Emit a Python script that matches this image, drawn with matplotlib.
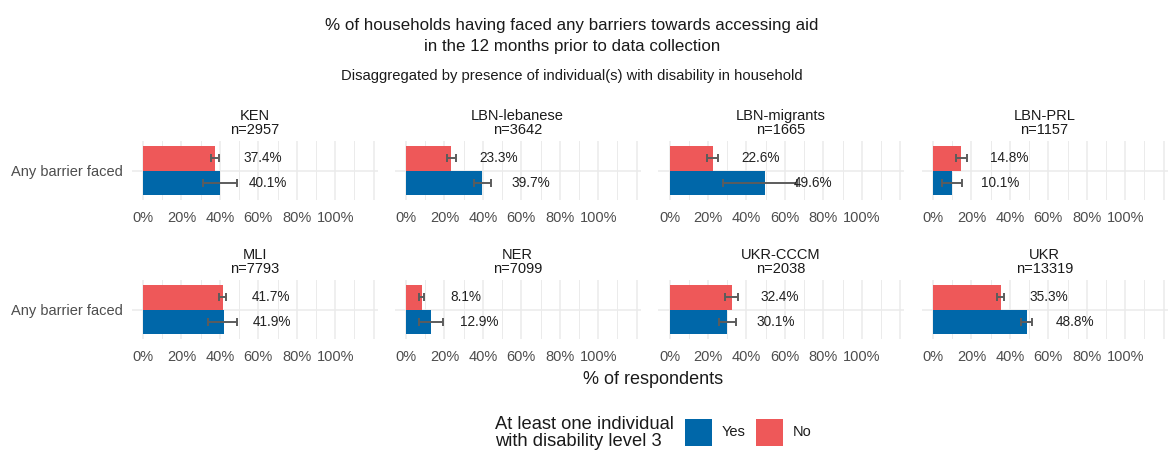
import numpy as np
import matplotlib
matplotlib.use('Agg')
from matplotlib import pyplot as plt
from matplotlib.patches import Rectangle

plt.rcParams['font.family'] = ['Liberation Sans', 'DejaVu Sans']

# data
panels = ['KEN', 'LBN-lebanese', 'LBN-migrants', 'LBN-PRL', 'MLI', 'NER', 'UKR-CCCM', 'UKR']
n_obs = [2957, 3642, 1665, 1157, 7793, 7099, 2038, 13319]
yes_val = [40.1, 39.7, 49.6, 10.1, 41.9, 12.9, 30.1, 48.8]
yes_low = [31.1, 35.4, 27.7, 4.7, 34.0, 6.9, 25.8, 45.8]
yes_high = [48.7, 44.0, 66.5, 15.0, 48.9, 19.3, 34.6, 51.5]
no_val = [37.4, 23.3, 22.6, 14.8, 41.7, 8.1, 32.4, 35.3]
no_low = [35.4, 21.1, 19.5, 11.8, 39.7, 6.7, 28.9, 33.3]
no_high = [39.4, 25.9, 25.0, 17.6, 43.2, 9.5, 35.8, 37.1]
category = 'Any barrier faced'

blue = '#0067a9'
red = '#ee5859'
grid_col = '#ebebeb'
err_col = '#5c5c5c'

W, H = 1168, 450
fig = plt.figure(figsize=(W / 100, H / 100), dpi=100)

col_left = [131.5, 394.5, 658, 921.5]
panel_w = 246
row_top = [141, 280]
panel_h = 59


def px_axes(x, y, w, h):
    return fig.add_axes([x / W, 1 - (y + h) / H, w / W, h / H])


for i, name in enumerate(panels):
    r, c = divmod(i, 4)
    ax = px_axes(col_left[c], row_top[r], panel_w, panel_h)
    ax.set_xlim(-6, 122)
    ax.set_ylim(-0.55, 0.55)
    for gx in np.arange(0, 121, 10):
        ax.axvline(gx, color=grid_col, lw=1.1 if gx % 20 == 0 else 0.7, zorder=0)
    ax.axhline(0, color=grid_col, lw=1.1, zorder=0)

    # No on top, Yes below
    ax.barh(0.225, no_val[i], height=0.45, color=red, zorder=2)
    ax.barh(-0.225, yes_val[i], height=0.45, color=blue, zorder=2)
    ax.errorbar([no_val[i]], [0.225],
                xerr=[[no_val[i] - no_low[i]], [no_high[i] - no_val[i]]],
                fmt='none', ecolor=err_col, elinewidth=1.4, capsize=3, capthick=1.4, zorder=3)
    ax.errorbar([yes_val[i]], [-0.225],
                xerr=[[yes_val[i] - yes_low[i]], [yes_high[i] - yes_val[i]]],
                fmt='none', ecolor=err_col, elinewidth=1.4, capsize=3, capthick=1.4, zorder=3)
    ax.text(no_val[i] + 15, 0.225, f'{no_val[i]:.1f}%', va='center', ha='left',
            fontsize=9.8, color='#222222', zorder=4)
    ax.text(yes_val[i] + 15, -0.225, f'{yes_val[i]:.1f}%', va='center', ha='left',
            fontsize=9.8, color='#222222', zorder=4)

    ax.set_xticks(np.arange(0, 101, 20))
    ax.set_xticklabels([f'{t}%' for t in range(0, 101, 20)], fontsize=10.5, color='#4d4d4d')
    ax.set_yticks([0])
    if c == 0:
        ax.set_yticklabels([category], fontsize=10.5, color='#4d4d4d')
    else:
        ax.set_yticklabels([])
    ax.tick_params(axis='x', length=0, pad=8)
    ax.tick_params(axis='y', length=0, pad=6)
    for s in ax.spines.values():
        s.set_visible(False)
    ax.set_title(f'{name}\nn={n_obs[i]}', fontsize=10.5, color='#1a1a1a', pad=5, linespacing=1.05)

fig.text(572 / W, 1 - 36 / H, '% of households having faced any barriers towards accessing aid\n'
         'in the 12 months prior to data collection', ha='center', va='center',
         fontsize=12.2, color='#1a1a1a', linespacing=1.45)
fig.text(572 / W, 1 - 76 / H, 'Disaggregated by presence of individual(s) with disability in household',
         ha='center', va='center', fontsize=10.6, color='#1a1a1a')
fig.text(653 / W, 1 - 379 / H, '% of respondents', ha='center', va='center',
         fontsize=13, color='#1a1a1a')

# legend
fig.text(495 / W, 1 - 433 / H, 'At least one individual\nwith disability level 3', ha='left',
         va='center', fontsize=13.2, color='#1a1a1a', linespacing=1.05)
for kx, col, lab in [(685, blue, 'Yes'), (756, red, 'No')]:
    fig.patches.append(Rectangle((kx / W, 1 - 446 / H), 27 / W, 27 / H,
                                 transform=fig.transFigure, facecolor=col, edgecolor='none'))
    fig.text((kx + 37) / W, 1 - 432 / H, lab, ha='left', va='center', fontsize=10.5, color='#1a1a1a')

fig.savefig('out.png', dpi=100)
